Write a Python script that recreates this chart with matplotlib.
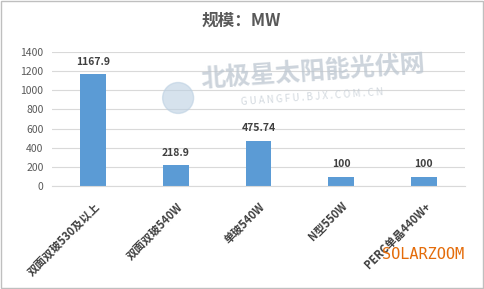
import matplotlib.pyplot as plt
from matplotlib.patches import Ellipse

plt.rcParams['font.family'] = ['Noto Sans CJK SC', 'DejaVu Sans']

# data
categories = ["双面双玻530及以上", "双面双玻540W", "单玻540W", "N型550W", "PERC单晶440W+"]
values = [1167.9, 218.9, 475.74, 100, 100]
value_labels = ["1167.9", "218.9", "475.74", "100", "100"]
yticks = [0, 200, 400, 600, 800, 1000, 1200, 1400]

fig = plt.figure(figsize=(4.84, 2.89), dpi=100)
ax = fig.add_axes([0.107, 0.356, 0.854, 0.464])

x = range(len(categories))
bars = ax.bar(x, values, width=0.31, color="#5b9bd5", zorder=2)

for b, lab in zip(bars, value_labels):
    ax.text(b.get_x() + b.get_width() / 2, b.get_height() + 75, lab,
            ha="center", va="bottom", fontsize=7.5, fontweight="bold", color="#404040")

ax.set_ylim(0, 1400)
ax.set_xlim(-0.5, len(categories) - 0.5)
ax.set_yticks(yticks)
ax.set_yticklabels([str(t) for t in yticks], fontsize=7.5, color="#595959")
ax.yaxis.grid(True, color="#d9d9d9", linewidth=0.8, zorder=0)
ax.set_xticks(list(x))
ax.set_xticklabels(categories, rotation=45, ha="right", rotation_mode="anchor",
                   fontsize=8, fontweight="bold", color="#404040")
ax.tick_params(axis="y", length=0, pad=6)
ax.tick_params(axis="x", length=0, pad=10)
for s in ["top", "right", "left"]:
    ax.spines[s].set_visible(False)
ax.spines["bottom"].set_color("#d9d9d9")

fig.text(0.498, 0.927, "规模：MW", ha="center", va="center", fontsize=12,
         fontweight="bold", color="#595959")

# watermarks
fig.text(0.647, 0.751, "北极星太阳能光伏网", ha="center", va="center", fontsize=18,
         fontweight="bold", color="#bcc6d0", alpha=0.75, rotation=4, zorder=0)
fig.text(0.645, 0.664, "G U A N G F U . B J X . C O M . C N", ha="center", va="center",
         fontsize=7, color="#c4ccd4", alpha=0.75, rotation=4, zorder=0)
fig.patches.append(Ellipse((0.368, 0.661), 0.064, 0.107, transform=fig.transFigure,
                           color="#bcd0e2", alpha=0.6, zorder=0))
fig.text(0.874, 0.121, "SOLARZOOM", ha="center", va="center", fontsize=11,
         color="#e46c0a", family="DejaVu Sans Mono")

fig.patches.append(plt.Rectangle((0.003, 0.004), 0.994, 0.992, transform=fig.transFigure,
                                 fill=False, edgecolor="#bfbfbf", linewidth=1))

fig.savefig("out.png", dpi=100)
